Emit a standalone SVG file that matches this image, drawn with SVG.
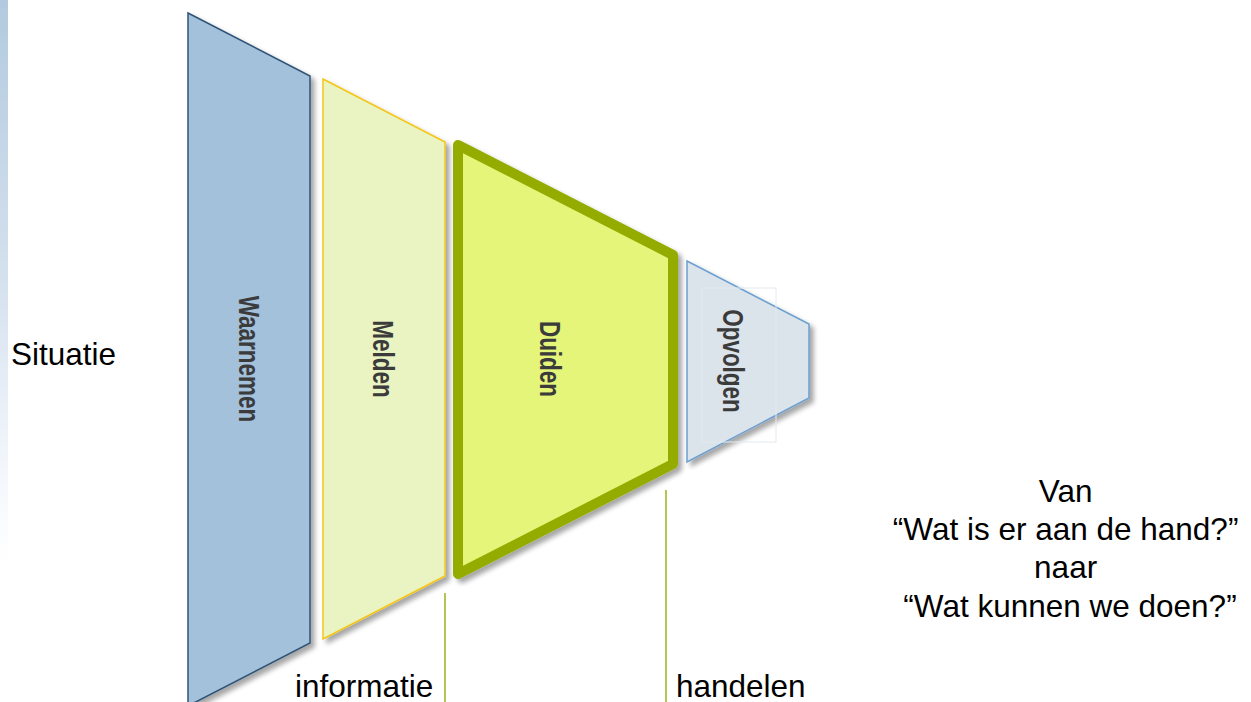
<svg xmlns="http://www.w3.org/2000/svg" width="1251" height="702" viewBox="0 0 1251 702">
<defs>
<linearGradient id="strip" x1="0" y1="0" x2="0" y2="1">
<stop offset="0" stop-color="#b2cadf"/>
<stop offset="0.4" stop-color="#d5e1ee"/>
<stop offset="0.62" stop-color="#eef3fa"/>
<stop offset="0.8" stop-color="#ffffff"/>
</linearGradient>
<filter id="shadow" x="-10%" y="-10%" width="130%" height="130%">
<feGaussianBlur in="SourceAlpha" stdDeviation="2.5"/>
<feOffset dx="4" dy="4" result="b"/>
<feComponentTransfer><feFuncA type="linear" slope="0.35"/></feComponentTransfer>
<feMerge><feMergeNode/><feMergeNode in="SourceGraphic"/></feMerge>
</filter>
</defs>
<style>
.lbl{font-family:"Liberation Sans",Arial,sans-serif;font-weight:bold;font-size:22.5px;fill:#3b3b3b;text-anchor:middle}
.txt{font-family:"Liberation Sans",Arial,sans-serif;font-size:31.5px;fill:#000}
.conn{stroke:#9ab31c;stroke-width:1.5;fill:none}
</style>
<rect x="0" y="0" width="1251" height="702" fill="#ffffff"/>
<rect x="0" y="0" width="8" height="702" fill="url(#strip)"/>

<g id="waarnemen">
<polygon points="188,13 310,76 310,643 188,706" fill="#a4c1dc" stroke="#2f5478" stroke-width="1.5" filter="url(#shadow)"/>
<text class="lbl" transform="translate(249,359) rotate(90) scale(1,1.3)" y="8">Waarnemen</text>
</g>
<g id="melden">
<polygon points="323,79 445,142 445,576 323,639" fill="#eaf4c2" stroke="#f5c518" stroke-width="1.5" filter="url(#shadow)"/>
<text class="lbl" transform="translate(383,359) rotate(90) scale(1,1.3)" y="8">Melden</text>
</g>
<g id="duiden">
<polygon points="458,145 673,255 673,464 458,574" fill="#e4f57a" stroke="#94ac00" stroke-width="10" stroke-linejoin="round" filter="url(#shadow)"/>
<text class="lbl" transform="translate(550,359) rotate(90) scale(1,1.3)" y="8">Duiden</text>
</g>
<g id="opvolgen">
<polygon points="687,261 809,324 809,398 687,462" fill="#dbe4eb" stroke="#6d9fd0" stroke-width="1.5" filter="url(#shadow)"/>
<rect x="702" y="288" width="74" height="154" fill="none" stroke="#e3eaef" stroke-width="1"/>
<text class="lbl" transform="translate(733,361) rotate(90) scale(1,1.3)" y="8">Opvolgen</text>
</g>

<g id="connectors">
<line class="conn" x1="445" y1="593" x2="445" y2="702"/>
<line class="conn" x1="666" y1="490" x2="666" y2="702"/>
</g>

<g id="labels">
<text class="txt" x="11" y="365">Situatie</text>
<text class="txt" x="295" y="697">informatie</text>
<text class="txt" x="676" y="697">handelen</text>
<text class="txt" text-anchor="middle">
<tspan x="1070" y="502">Van</tspan>
<tspan x="1070" y="540">“Wat is er aan de hand?”</tspan>
<tspan x="1070" y="578">naar</tspan>
<tspan x="1070" y="617">“Wat kunnen we doen?”</tspan>
</text>
</g>
</svg>
